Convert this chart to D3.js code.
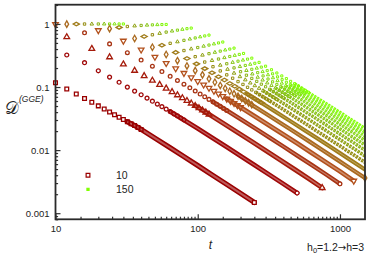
<!DOCTYPE html>
<html>
<head>
<meta charset="utf-8">
<script src="https://cdn.jsdelivr.net/npm/d3@7"></script>
<style>
body { margin: 0; background: #fff; }
text { font-family: "Liberation Sans", Arial, sans-serif; fill: #222; }
</style>
</head>
<body>
<svg width="374" height="264"></svg>
<script>
// series labels and time step of each series (t = k * step)
var seriesN = [10, 20, 30, 40, 50, 60, 70, 80, 90, 100, 110, 120, 130, 140, 150];
var tStep = [2, 4, 6, 8, 10, 12, 14, 16, 18, 20, 22, 24, 26, 28, 30];
// sample index k at which values were read
var kIdx = [1, 2, 3, 4, 5, 6, 7, 8, 9, 10, 11, 12, 13, 14, 15, 16, 17, 18, 19, 20, 25, 32, 40, 50, 63, 80, 100, 125];

// D^(GGE), one array per series (null = outside the axes)
var d10 = [null, null, null, null, 0.117, 0.093, 0.0775, 0.066, 0.0572, 0.0503, 0.0447, 0.0402, 0.0364, 0.0333, 0.0306, 0.0282, 0.0262, 0.0245, 0.0229, 0.0213, 0.0155, 0.0109, 0.00789, 0.0057, 0.00406, 0.00286, 0.00206, 0.00148];
var d20 = [null, null, 0.322, 0.243, 0.181, 0.144, 0.119, 0.0997, 0.0862, 0.0754, 0.0667, 0.0596, 0.0537, 0.0488, 0.0446, 0.0408, 0.0376, 0.0348, 0.0323, 0.0301, 0.022, 0.0154, 0.0112, 0.00806, 0.00575, 0.00404, 0.00291, 0.00209];
var d30 = [null, 0.62, 0.405, 0.298, 0.23, 0.182, 0.15, 0.127, 0.109, 0.095, 0.0837, 0.0745, 0.0669, 0.0605, 0.0551, 0.0504, 0.0464, 0.0428, 0.0397, 0.0369, 0.0269, 0.0189, 0.0137, 0.00988, 0.00704, 0.00495, 0.00356, 0.00252];
var d40 = [null, 0.723, 0.483, 0.35, 0.268, 0.214, 0.176, 0.148, 0.127, 0.111, 0.0973, 0.0865, 0.0775, 0.07, 0.0637, 0.0582, 0.0535, 0.0494, 0.0458, 0.0426, 0.0311, 0.0218, 0.0158, 0.0114, 0.00813, 0.00572, 0.00411, 0.00292];
var d50 = [0.988, 0.791, 0.539, 0.39, 0.2995, 0.239, 0.197, 0.166, 0.142, 0.1235, 0.109, 0.0967, 0.0867, 0.0783, 0.0712, 0.0651, 0.0598, 0.0553, 0.0512, 0.0477, 0.0347, 0.0244, 0.0177, 0.0128, 0.00909, 0.00639, 0.0046, 0.00325];
var d60 = [0.994, 0.843, 0.589, 0.428, 0.328, 0.262, 0.216, 0.182, 0.156, 0.135, 0.119, 0.106, 0.095, 0.0857, 0.078, 0.0713, 0.0656, 0.0605, 0.0561, 0.0522, 0.038, 0.0267, 0.0193, 0.014, 0.00995, 0.007, 0.00503, 0.00362];
var d70 = [0.996, 0.882, 0.634, 0.461, 0.354, 0.283, 0.233, 0.196, 0.168, 0.146, 0.129, 0.114, 0.103, 0.0926, 0.0843, 0.077, 0.0708, 0.0654, 0.0606, 0.0564, 0.0411, 0.0288, 0.0209, 0.0151, 0.0108, 0.00756, 0.00544, 0.00391];
var d80 = [0.997, 0.911, 0.674, 0.493, 0.379, 0.303, 0.249, 0.21, 0.18, 0.156, 0.138, 0.122, 0.11, 0.099, 0.0901, 0.0824, 0.0757, 0.0699, 0.0648, 0.0603, 0.0439, 0.0308, 0.0223, 0.0161, 0.0115, 0.00809, 0.00581, 0.00418];
var d90 = [0.998, 0.932, 0.71, 0.522, 0.402, 0.321, 0.264, 0.222, 0.191, 0.166, 0.146, 0.13, 0.116, 0.105, 0.0955, 0.0874, 0.0803, 0.0741, 0.0687, 0.0639, 0.0466, 0.0327, 0.0237, 0.0171, 0.0122, 0.00858, 0.00617, 0.00443];
var d100 = [0.999, 0.947, 0.743, 0.55, 0.423, 0.338, 0.278, 0.234, 0.201, 0.175, 0.154, 0.137, 0.123, 0.111, 0.101, 0.0921, 0.0846, 0.0781, 0.0724, 0.0674, 0.0491, 0.0345, 0.025, 0.018, 0.0129, 0.00904, 0.0065, 0.00467];
var d110 = [0.999, 0.958, 0.772, 0.576, 0.444, 0.355, 0.292, 0.246, 0.211, 0.183, 0.161, 0.143, 0.129, 0.116, 0.106, 0.0966, 0.0888, 0.082, 0.076, 0.0707, 0.0515, 0.0362, 0.0262, 0.0189, 0.0135, 0.00948, 0.00682, 0.0049];
var d120 = [0.999, 0.967, 0.798, 0.6, 0.463, 0.371, 0.305, 0.257, 0.22, 0.191, 0.169, 0.15, 0.134, 0.121, 0.11, 0.101, 0.0927, 0.0856, 0.0793, 0.0738, 0.0538, 0.0378, 0.0273, 0.0198, 0.0141, 0.0099, 0.00712, 0.00512];
var d130 = [1.0, 0.973, 0.821, 0.624, 0.482, 0.386, 0.317, 0.267, 0.229, 0.199, 0.175, 0.156, 0.14, 0.126, 0.115, 0.105, 0.0965, 0.0891, 0.0826, 0.0768, 0.056, 0.0393, 0.0285, 0.0206, 0.0147, 0.0103, 0.00741, 0.00532];
var d140 = [1.0, 0.979, 0.842, 0.646, 0.5, 0.4, 0.329, 0.277, 0.238, 0.207, 0.182, 0.162, 0.145, 0.131, 0.119, 0.109, 0.1, 0.0925, 0.0857, 0.0797, 0.0581, 0.0408, 0.0295, 0.0213, 0.0152, 0.0107, 0.00769, 0.00553];
var d150 = [1.0, 0.982, 0.86, 0.666, 0.517, 0.414, 0.341, 0.287, 0.246, 0.214, 0.188, 0.167, 0.15, 0.136, 0.123, 0.113, 0.104, 0.0957, 0.0887, 0.0825, 0.0601, 0.0422, 0.0306, 0.0221, 0.0157, null, null, null];
var seriesD = [d10, d20, d30, d40, d50, d60, d70, d80, d90, d100, d110, d120, d130, d140, d150];

// ticks
var xMajor = [10, 100, 1000];
var xMinor = [15, 20, 25, 30, 35, 40, 45, 50, 55, 60, 65, 70, 75, 80, 85, 90, 95,
              150, 200, 250, 300, 350, 400, 450, 500, 550, 600, 650, 700, 750, 800, 850, 900, 950];
var yMajor = [1, 0.1, 0.01, 0.001];
var yMinor = [0.0008, 0.0009, 0.002, 0.003, 0.004, 0.005, 0.006, 0.007, 0.008, 0.009,
              0.02, 0.03, 0.04, 0.05, 0.06, 0.07, 0.08, 0.09,
              0.2, 0.3, 0.4, 0.5, 0.6, 0.7, 0.8, 0.9, 2];
var legendItems = [0, 14];

// styling
var colors = ["#9a0000", "#a00808", "#a51a0a", "#a83414", "#b2501c", "#aa6a20", "#a07c1a",
              "#948c10", "#8ea010", "#8ab214", "#86c414", "#84d412", "#82e410", "#80f20a", "#80ff00"];
var shapes = ["square", "circle", "triangle", "circle", "triangleDown", "diamond", "diamondH",
              "square", "triangle", "square", "triangle", "square", "triangle", "square", "square"];
var sizes = [14, 12, 14, 11, 14, 12, 11, 5.5, 5.5, 5, 5, 4.6, 4.6, 4.4, 4.4];
var bandW = [5.2, 4.6, 4.8, 4.4, 4.7, 4.2, 4.1, 3.6, 3.5, 3.4, 3.3, 3.2, 3.1, 3.0, 3.0];

var svg = d3.select("svg");
var x = d3.scaleLog().domain([10, 1500]).range([55.5, 365]);
var y = d3.scaleLog().domain([0.0008, 2.02]).range([219.3, 4.7]);

svg.append("clipPath").attr("id", "plotClip")
    .append("rect")
    .attr("x", x.range()[0]).attr("y", y.range()[1])
    .attr("width", x.range()[1] - x.range()[0])
    .attr("height", y.range()[0] - y.range()[1]);

function symbolPath(shape, size) {
    var type = d3.symbolSquare;
    if (shape == "circle") type = d3.symbolCircle;
    if (shape == "triangle" || shape == "triangleDown") type = d3.symbolTriangle;
    if (shape == "diamond" || shape == "diamondH") type = d3.symbolDiamond;
    return d3.symbol().type(type).size(size)();
}
function symbolRotate(shape) {
    if (shape == "triangleDown") return " rotate(180)";
    if (shape == "diamondH") return " rotate(90)";
    return "";
}

var plot = svg.append("g").attr("clip-path", "url(#plotClip)");
var marks = svg.append("g");

var line = d3.line()
    .x(function(p) { return x(p.t); })
    .y(function(p) { return y(p.d); });

seriesN.forEach(function(n, i) {
    var pts = [];
    kIdx.forEach(function(k, j) {
        if (seriesD[i][j] != null) pts.push({ k: k, t: k * tStep[i], d: seriesD[i][j] });
    });
    var band = pts.filter(function(p) { return p.k >= 16; });
    var col = colors[i];
    var light = d3.interpolateRgb(col, "#ffffff")(0.35);
    // small markers stay visibly separate further along, so their band is broken
    var dash = i >= 7 ? "2.3 1.0" : null;

    plot.append("path").datum(band)
        .attr("d", line)
        .attr("fill", "none")
        .attr("stroke", col)
        .attr("stroke-width", bandW[i])
        .attr("stroke-dasharray", dash)
        .attr("stroke-linecap", dash ? "butt" : "round")
        .attr("stroke-linejoin", "round");
    plot.append("path").datum(band)
        .attr("d", line)
        .attr("fill", "none")
        .attr("stroke", light)
        .attr("stroke-dasharray", dash)
        .attr("stroke-width", Math.max(0.8, bandW[i] - 3.2));

    var last = pts[pts.length - 1];
    var shown = pts.filter(function(p) {
        return p.t >= 10 && p.t <= 1500 && (p.k <= 20 || p === last);
    });
    marks.selectAll(null).data(shown).enter()
        .append("path")
        .attr("d", symbolPath(shapes[i], sizes[i]))
        .attr("transform", function(p) {
            return "translate(" + x(p.t) + "," + y(p.d) + ")" + symbolRotate(shapes[i]);
        })
        .attr("fill", function(p) { return p === last && p.k > 20 ? "#fff" : "none"; })
        .attr("stroke", col)
        .attr("stroke-width", i < 7 ? 1.3 : 1.0);
});

// axes (ticks point inwards)
function styleAxis(g) {
    g.select(".domain").remove();
    g.selectAll(".tick line").attr("stroke", "#333").attr("stroke-width", 1.2);
    g.selectAll(".tick text").attr("font-size", "9.5px").attr("fill", "#222")
        .style("font-family", "'Liberation Sans', Arial, sans-serif");
}
svg.append("g").attr("transform", "translate(0," + y.range()[0] + ")")
    .call(d3.axisBottom(x).tickValues(xMajor).tickSize(-5).tickPadding(6).tickFormat(d3.format("d")))
    .call(styleAxis);
svg.append("g").attr("transform", "translate(0," + y.range()[0] + ")")
    .call(d3.axisBottom(x).tickValues(xMinor).tickSize(-2.6).tickFormat(""))
    .call(styleAxis);
svg.append("g").attr("transform", "translate(" + x.range()[0] + ",0)")
    .call(d3.axisLeft(y).tickValues(yMajor).tickSize(-5).tickPadding(6)
        .tickFormat(function(v) { return v >= 1 ? "1" : String(v); }))
    .call(styleAxis);
svg.append("g").attr("transform", "translate(" + x.range()[0] + ",0)")
    .call(d3.axisLeft(y).tickValues(yMinor).tickSize(-2.6).tickFormat(""))
    .call(styleAxis);

// frame
svg.append("rect")
    .attr("x", x.range()[0]).attr("y", y.range()[1])
    .attr("width", x.range()[1] - x.range()[0])
    .attr("height", y.range()[0] - y.range()[1])
    .attr("fill", "none").attr("stroke", "#2a2a2a").attr("stroke-width", 1.8);

// axis titles
svg.append("text").attr("x", 210.5).attr("y", 249).attr("text-anchor", "middle")
    .attr("font-size", "12px").attr("font-style", "italic").text("t");
svg.append("text").attr("x", 5).attr("y", 113.5)
    .attr("font-size", "17px").style("font-family", "'DejaVu Serif', serif")
    .text("\uD835\uDC9F");
svg.append("text").attr("x", 19).attr("y", 101.5)
    .attr("font-size", "8.5px").attr("font-style", "italic").text("(GGE)");

// quench annotation
var ann = svg.append("text").attr("x", 364).attr("y", 250.5).attr("text-anchor", "end")
    .attr("font-size", "10.5px");
ann.append("tspan").text("h");
ann.append("tspan").attr("font-size", "7.5px").attr("dy", 2.5).text("0");
ann.append("tspan").attr("dy", -2.5).text("=1.2");
ann.append("tspan").style("font-family", "'DejaVu Sans', sans-serif").attr("font-size", "10px").text("\u2192");
ann.append("tspan").text("h=3");

// legend
legendItems.forEach(function(i, r) {
    var ly = 175.3 + r * 14;
    svg.append("path")
        .attr("d", symbolPath(shapes[i], i == 0 ? 14 : 4.4))
        .attr("transform", "translate(88," + ly + ")")
        .attr("fill", i == 0 ? "none" : colors[i])
        .attr("stroke", colors[i])
        .attr("stroke-width", 1.2);
    svg.append("text").attr("x", 116).attr("y", ly + 4)
        .attr("font-size", "10.5px").text(seriesN[i]);
});
</script>
</body>
</html>
